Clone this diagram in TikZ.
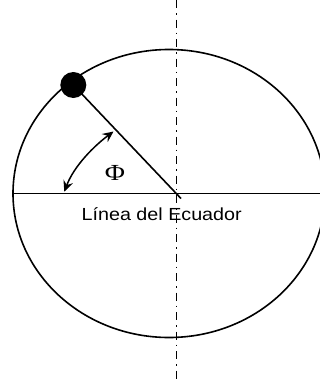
\documentclass[tikz,border=0pt]{standalone}
\usepackage{fontspec}
\setmainfont{Liberation Serif}
\newfontfamily\arialf{Liberation Sans}
\usetikzlibrary{arrows.meta,shapes.geometric}
\begin{document}
\begin{tikzpicture}[x=1pt,y=-1pt,
  thickline/.style={line width=1.6pt},
  axisline/.style={line width=1.5pt, dash pattern=on 8pt off 5pt on 1.5pt off 5pt},
  anglearrow/.style={line width=1.5pt,{Stealth[length=11pt,width=10pt,inset=4pt]}-{Stealth[length=11pt,width=10pt,inset=4pt]}}]
\useasboundingbox (0,0) rectangle (320,383);
\clip (0,0) rectangle (320,383);
\node[ellipse, draw, thickline, minimum width=312pt, minimum height=288pt, inner sep=0pt] (earth) at (169,193.5) {};
\coordinate (center) at (176.5,193.5);
\coordinate (eqend) at (330,193.5);
\coordinate (radend) at (181,198.5);
\coordinate (axtop) at (176.5,0);
\coordinate (axbot) at (176.5,383);
\node[circle, fill=black, minimum size=26pt, inner sep=0pt] (dot) at (73.3,85) {};
\coordinate (arcA) at (64.3,191.7);
\coordinate (arcB) at (113.5,131.5);
\draw[thickline] (earth.west) -- (eqend);
\draw[axisline] (axtop) -- (axbot);
\draw[thickline] (dot.center) -- (radend);
\draw[anglearrow] (arcA) .. controls (74,166) and (94,146) .. (arcB);
\node[anchor=base, inner sep=0pt, xscale=1.2] (phi) at (115,180) {\fontsize{23}{25}\selectfont Φ};
\node[anchor=base, inner sep=0pt, xscale=1.127] (label) at (161.7,220.7) {\arialf\fontsize{17.5}{20}\selectfont Línea del Ecuador};
\end{tikzpicture}
\end{document}
